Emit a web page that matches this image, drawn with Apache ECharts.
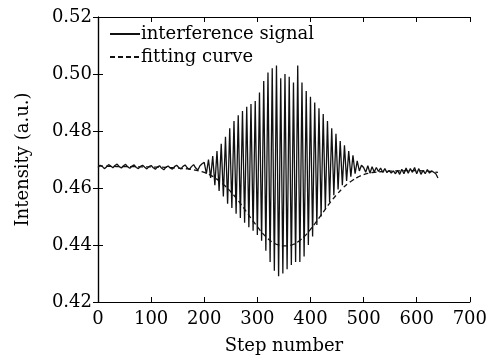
<!DOCTYPE html>
<html>
<head>
<meta charset="utf-8">
<script src="https://cdn.jsdelivr.net/npm/echarts@6/dist/echarts.min.js"></script>
<style>html,body{margin:0;padding:0;background:#fff}#c{width:490px;height:360px}</style>
</head>
<body>
<div id="c"></div>
<script>
// Interference signal, sampled every 4 steps starting at step 0
const signalStep = 4;
const signalValues = [
  // 0 - 196 (baseline)
  0.4672,0.4680,0.4676,0.4668,0.4674,0.4682,0.4677,0.4671,0.4679,0.4684,
  0.4675,0.4670,0.4678,0.4683,0.4674,0.4669,0.4677,0.4681,0.4672,0.4668,
  0.4676,0.4680,0.4673,0.4667,0.4675,0.4679,0.4671,0.4666,0.4674,0.4678,
  0.4669,0.4664,0.4673,0.4677,0.4670,0.4666,0.4675,0.4680,0.4672,0.4667,
  0.4676,0.4681,0.4671,0.4665,0.4675,0.4682,0.4670,0.4663,0.4678,0.4685,
  // 200 - 496 (fringes)
  0.4690,0.4650,0.4700,0.4635,0.4712,0.4610,0.4730,0.4590,0.4755,0.4570,
  0.4780,0.4545,0.4810,0.4530,0.4835,0.4510,0.4855,0.4495,0.4870,0.4478,
  0.4885,0.4462,0.4895,0.4450,0.4905,0.4435,0.4935,0.4415,0.4975,0.4380,
  0.5005,0.4340,0.5020,0.4310,0.5030,0.4290,0.4985,0.4300,0.5000,0.4315,
  0.4990,0.4330,0.4970,0.4340,0.5030,0.4340,0.4970,0.4360,0.4940,0.4400,
  0.4920,0.4430,0.4900,0.4470,0.4880,0.4500,0.4860,0.4525,0.4835,0.4550,
  0.4810,0.4575,0.4790,0.4595,0.4765,0.4610,0.4750,0.4625,0.4730,0.4640,
  0.4715,0.4650,0.4695,0.4660,0.4680,
  // 500 - 640 (baseline)
  0.4672,0.4655,0.4678,0.4652,0.4675,0.4656,0.4672,0.4658,0.4670,0.4655,
  0.4668,0.4654,0.4662,0.4652,0.4660,0.4650,0.4662,0.4648,0.4666,0.4650,
  0.4670,0.4652,0.4668,0.4655,0.4672,0.4650,0.4668,0.4648,0.4662,0.4650,
  0.4665,0.4652,0.4660,0.4655,0.4650,0.4635
];

// Fitting curve, sampled every 10 steps starting at step 0
const fitStep = 10;
const fitValues = [
  0.4678,0.4677,0.4676,0.4676,0.4675,0.4675,0.4675,0.4675,0.4674,0.4674,
  0.4674,0.4673,0.4673,0.4672,0.4671,0.4670,0.4668,0.4667,0.4664,0.4660,
  0.4655,0.4647,0.4636,0.4622,0.4606,0.4587,0.4565,0.4541,0.4515,0.4489,
  0.4464,0.4441,0.4422,0.4408,0.4400,0.4397,0.4398,0.4404,0.4416,0.4433,
  0.4455,0.4479,0.4505,0.4531,0.4556,0.4578,0.4598,0.4615,0.4628,0.4639,
  0.4647,0.4652,0.4655,0.4657,0.4658,0.4659,0.4660,0.4660,0.4661,0.4661,
  0.4661,0.4660,0.4659,0.4657,0.4655
];

const seriesNames = ['interference signal', 'fitting curve'];
const xTicks = [0,100,200,300,400,500,600,700];
const yTicks = [0.42,0.44,0.46,0.48,0.50,0.52];

const signalData = signalValues.map((v,i)=>[i*signalStep, v]);
const fitData = fitValues.map((v,i)=>[i*fitStep, v]);

const font = 'DejaVu Serif';
const axisLine = {show:true, lineStyle:{color:'#000', width:1.2}};
const tick = {show:true, inside:true, length:5, lineStyle:{color:'#000', width:1}};

const chart = echarts.init(document.getElementById('c'), null, {renderer:'canvas'});
chart.setOption({
  animation:false,
  backgroundColor:'#fff',
  grid:{left:98, right:19, top:17, bottom:57, containLabel:false},
  legend:{
    orient:'vertical', left:104, top:20, itemWidth:30, itemHeight:12, itemGap:5,
    data:seriesNames,
    itemStyle:{color:'rgba(0,0,0,0)', borderWidth:0, opacity:0},
    textStyle:{fontFamily:font, fontSize:18, color:'#000', padding:[0,0,0,-4]},
    selectedMode:false
  },
  xAxis:[{
    type:'value', min:xTicks[0], max:xTicks[xTicks.length-1], interval:100,
    name:'Step number', nameLocation:'middle', nameGap:35,
    nameTextStyle:{fontFamily:font, fontSize:18, color:'#000'},
    axisLine, axisTick:tick, splitLine:{show:false},
    axisLabel:{fontFamily:font, fontSize:18, color:'#000', margin:8}
  },{
    type:'value', position:'top', min:xTicks[0], max:xTicks[xTicks.length-1], interval:100,
    axisLine, axisTick:tick, splitLine:{show:false}, axisLabel:{show:false}
  }],
  yAxis:[{
    type:'value', min:yTicks[0], max:yTicks[yTicks.length-1], interval:0.02,
    name:'Intensity (a.u.)', nameLocation:'middle', nameGap:66,
    nameTextStyle:{fontFamily:font, fontSize:18, color:'#000'},
    axisLine, axisTick:tick, splitLine:{show:false},
    axisLabel:{fontFamily:font, fontSize:18, color:'#000', margin:6, formatter:v=>v.toFixed(2)}
  },{
    type:'value', position:'right', min:yTicks[0], max:yTicks[yTicks.length-1], interval:0.02,
    axisLine, axisTick:tick, splitLine:{show:false}, axisLabel:{show:false}
  }],
  series:[{
    name:seriesNames[0], type:'line', data:signalData, symbol:'none', showSymbol:false,
    lineStyle:{color:'#111', width:1.3}, itemStyle:{color:'#111'}
  },{
    name:seriesNames[1], type:'line', data:fitData, symbol:'none', showSymbol:false, smooth:true,
    lineStyle:{color:'#111', width:1.3, type:[5,3]}, itemStyle:{color:'#111'}
  }]
});
</script>
</body>
</html>
